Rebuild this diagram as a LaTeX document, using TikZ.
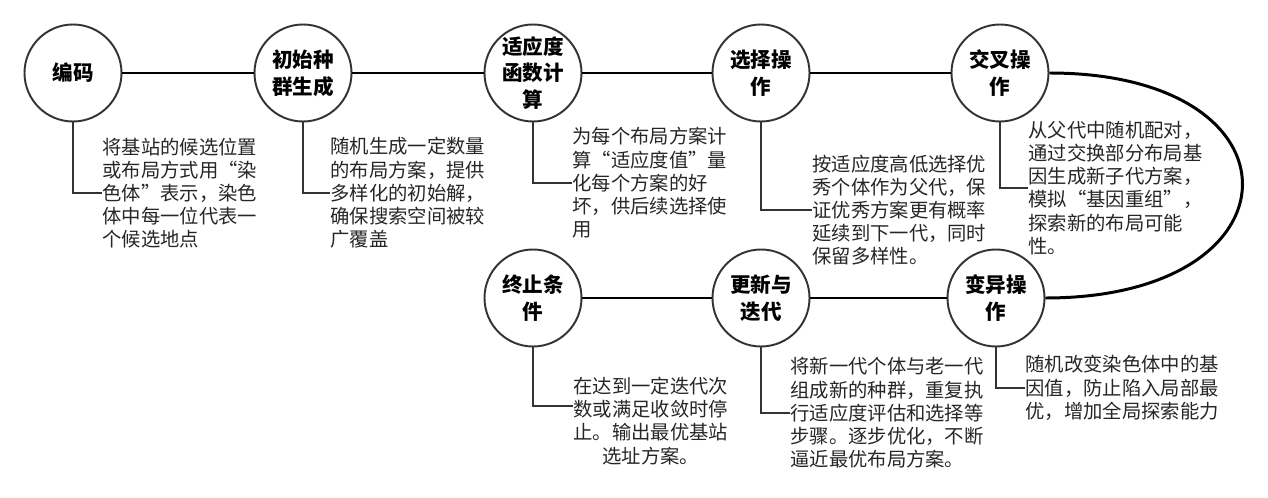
\documentclass[tikz,border=0pt]{standalone}
\usepackage{fontspec}
\newfontfamily\cjk{Noto Sans CJK SC}
\newcommand\qopen{\makebox[1em][r]{“}}
\newcommand\qclose{\makebox[1em][l]{”}}
\begin{document}
\begin{tikzpicture}[
    stage/.style={circle, draw=black!80, line width=1.1pt, minimum size=1.94cm, inner sep=0pt,
      align=center, font=\cjk\bfseries\fontsize{11.7}{15.3}\selectfont},
    note/.style={anchor=west, inner sep=0pt, align=left, text=black!85,
      font=\cjk\fontsize{11}{13.2}\selectfont},
    link/.style={line width=1.4pt, black},
    lead/.style={line width=1.1pt, black!80}]
  \useasboundingbox (0,0) rectangle (25.36,-9.96);
  % stages, top row
  \node[stage] (c1) at (1.46,-1.46) {编码};
  \node[stage] (c2) at (6.06,-1.46) {初始种\\群生成};
  \node[stage] (c3) at (10.66,-1.46) {适应度\\函数计\\算};
  \node[stage] (c4) at (15.22,-1.46) {选择操\\作};
  \node[stage] (c5) at (20.0,-1.46) {交叉操\\作};
  % stages, bottom row
  \node[stage] (c6) at (19.92,-5.96) {变异操\\作};
  \node[stage] (c7) at (15.22,-5.96) {更新与\\迭代};
  \node[stage] (c8) at (10.66,-5.96) {终止条\\件};
  % notes
  \node[note] (t1) at (2.04,-3.86) {将基站的候选位置\\或布局方式用\qopen 染\\色体\qclose 表示，染色\\体中每一位代表一\\个候选地点};
  \node[note] (t2) at (6.6,-3.86) {随机生成一定数量\\的布局方案，提供\\多样化的初始解，\\确保搜索空间被较\\广覆盖};
  \node[note] (t3) at (11.44,-3.66) {为每个布局方案计\\算\qopen 适应度值\qclose 量\\化每个方案的好\\坏，供后续选择使\\用};
  \node[note] (t4) at (16.24,-4.2) {按适应度高低选择优\\秀个体作为父代，保\\证优秀方案更有概率\\延续到下一代，同时\\保留多样性。};
  \node[note] (t5) at (20.56,-3.76) {从父代中随机配对，\\通过交换部分布局基\\因生成新子代方案，\\模拟\qopen 基因重组\qclose ，\\探索新的布局可能\\性。};
  \node[note] (t6) at (20.5,-7.76) {随机改变染色体中的基\\因值，防止陷入局部最\\优，增加全局探索能力};
  \node[note] (t7) at (15.8,-8.26) {将新一代个体与老一代\\组成新的种群，重复执\\行适应度评估和选择等\\步骤。逐步优化，不断\\逼近最优布局方案。};
  \node[note, align=center] (t8) at (11.46,-8.42) {在达到一定迭代次\\数或满足收敛时停\\止。输出最优基站\\选址方案。};
  % flow
  \foreach \a/\b in {c1/c2, c2/c3, c3/c4, c4/c5, c8/c7, c7/c6}
    \draw[link] (\a) -- (\b);
  \draw[line width=1.7pt] (c5.east) .. controls +(5.2,0) and +(5.2,0) .. (c6.east);
  % leaders
  \foreach \i in {1,...,7}
    \draw[lead] (c\i.south) |- (t\i.west);
  \draw[lead] (c8.south) |- ([yshift=0.3cm]t8.west);
\end{tikzpicture}
\end{document}
